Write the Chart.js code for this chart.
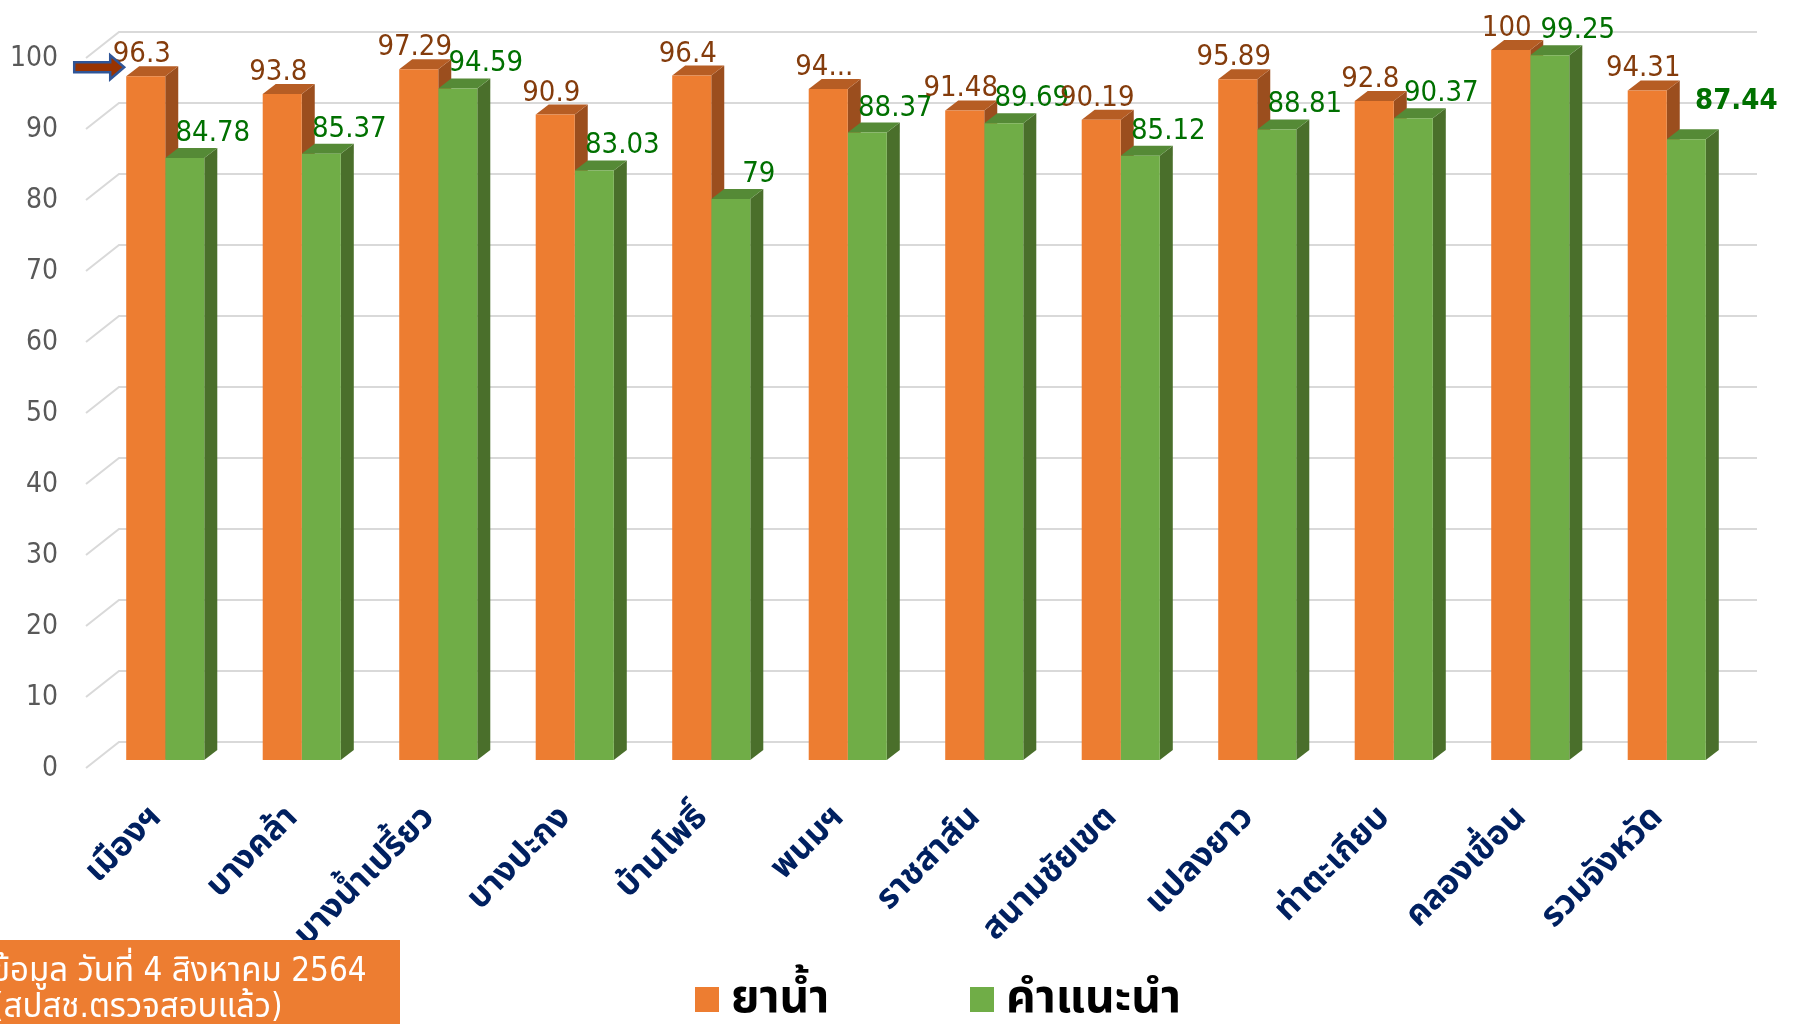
<!DOCTYPE html>
<html lang="th">
<head>
<meta charset="UTF-8">
<title>ยาน้ำ / คำแนะนำ</title>
<script src="https://cdn.jsdelivr.net/npm/chart.js"></script>
<style>
  body { margin: 0; background: #ffffff; overflow: hidden; }
  .wrap { position: relative; width: 1793px; height: 1024px; }
</style>
</head>
<body>
<div class="wrap"><canvas id="chart" width="1793" height="1024"></canvas></div>
<script>
const categories = ['เมืองฯ', 'บางคล้า', 'บางน้ำเปรี้ยว', 'บางปะกง', 'บ้านโพธิ์', 'พนมฯ',
                    'ราชสาส์น', 'สนามชัยเขต', 'แปลงยาว', 'ท่าตะเกียบ', 'คลองเขื่อน', 'รวมจังหวัด'];
const yaNamValues = [96.3, 93.8, 97.29, 90.9, 96.4, 94.5, 91.48, 90.19, 95.89, 92.8, 100, 94.31];
const yaNamLabels = ['96.3', '93.8', '97.29', '90.9', '96.4', '94...', '91.48', '90.19', '95.89', '92.8', '100', '94.31'];
const kamNaeNamValues = [84.78, 85.37, 94.59, 83.03, 79, 88.37, 89.69, 85.12, 88.81, 90.37, 99.25, 87.44];
const seriesNames = ['ยาน้ำ', 'คำแนะนำ'];
const yMin = 0, yMax = 100, yStep = 10;
const noteLines = ['ข้อมูล วันที่ 4 สิงหาคม 2564', '(สปสช.ตรวจสอบแล้ว)'];

const THAI = "Tahoma, 'DejaVu Sans Condensed', 'Noto Sans Thai', 'Noto Sans', sans-serif";
const NUM = "Tahoma, 'DejaVu Sans Condensed', 'Liberation Sans', sans-serif";

// face colours: front, top, side
const faces = [
    { front: '#ED7D31', top: '#B65D24', side: '#9B4E1E', label: '#843C0C' },
    { front: '#70AD47', top: '#558A36', side: '#4A6F2B', label: '#007000' }
];
const DX = 13, DY = 10;          // bar depth
const WALL_DX = 22, WALL_DY = 18; // back wall offset from bar front plane
const FLOOR_DX = 11, FLOOR_DY = 8; // front plane offset

const bars3d = {
    id: 'bars3d',
    beforeDatasetsDraw(chart) {
        const ctx = chart.ctx, area = chart.chartArea, y = chart.scales.y;
        ctx.save();
        // 3D gridlines: back wall + floor diagonals
        ctx.strokeStyle = '#d9d9d9';
        ctx.lineWidth = 2;
        y.ticks.forEach(t => {
            const yp = y.getPixelForValue(t.value);
            ctx.beginPath();
            ctx.moveTo(area.left - FLOOR_DX, yp + FLOOR_DY);
            ctx.lineTo(area.left + WALL_DX, yp - WALL_DY);
            ctx.lineTo(area.right + WALL_DX, yp - WALL_DY);
            ctx.stroke();
        });
        // top and side faces of each box
        const metas = [chart.getDatasetMeta(0), chart.getDatasetMeta(1)];
        for (let i = 0; i < categories.length; i++) {
            metas.forEach((meta, d) => {
                const el = meta.data[i];
                const x1 = el.x - el.width / 2, x2 = el.x + el.width / 2;
                const top = el.y, bot = el.base;
                ctx.fillStyle = faces[d].side;
                ctx.beginPath();
                ctx.moveTo(x2, top);
                ctx.lineTo(x2 + DX, top - DY);
                ctx.lineTo(x2 + DX, bot - DY);
                ctx.lineTo(x2, bot);
                ctx.closePath();
                ctx.fill();
                ctx.fillStyle = faces[d].top;
                ctx.beginPath();
                ctx.moveTo(x1, top);
                ctx.lineTo(x1 + DX, top - DY);
                ctx.lineTo(x2 + DX, top - DY);
                ctx.lineTo(x2, top);
                ctx.closePath();
                ctx.fill();
            });
        }
        ctx.restore();
    },
    afterDatasetsDraw(chart) {
        const ctx = chart.ctx;
        ctx.save();
        ctx.textAlign = 'center';
        ctx.textBaseline = 'alphabetic';
        const m0 = chart.getDatasetMeta(0), m1 = chart.getDatasetMeta(1);
        for (let i = 0; i < categories.length; i++) {
            const a = m0.data[i], b = m1.data[i];
            ctx.font = '29px ' + NUM;
            ctx.fillStyle = faces[0].label;
            ctx.fillText(yaNamLabels[i], a.x - 4, a.y - 14);
            const last = i === categories.length - 1;
            ctx.font = (last ? 'bold ' : '') + '29px ' + NUM;
            ctx.fillStyle = faces[1].label;
            ctx.fillText(String(kamNaeNamValues[i]), b.x + (last ? 50 : 28), b.y - (last ? 30 : 17));
        }
        // arrow pointing at the first bar
        const f = m0.data[0];
        const tip = f.x - f.width / 2 - 2, cy = f.y - 9;
        ctx.beginPath();
        ctx.moveTo(tip - 50, cy - 5);
        ctx.lineTo(tip - 14, cy - 5);
        ctx.lineTo(tip - 14, cy - 12);
        ctx.lineTo(tip, cy);
        ctx.lineTo(tip - 14, cy + 12);
        ctx.lineTo(tip - 14, cy + 5);
        ctx.lineTo(tip - 50, cy + 5);
        ctx.closePath();
        ctx.fillStyle = '#993300';
        ctx.fill();
        ctx.strokeStyle = '#2F5597';
        ctx.lineWidth = 2.5;
        ctx.stroke();
        ctx.restore();
    },
    afterDraw(chart) {
        const ctx = chart.ctx;
        ctx.save();
        // legend
        ctx.font = 'bold 46px ' + THAI;
        ctx.textBaseline = 'middle';
        ctx.textAlign = 'left';
        const legendX = [695, 970];
        seriesNames.forEach((name, d) => {
            ctx.fillStyle = faces[d].front;
            ctx.fillRect(legendX[d], 987, 24, 25);
            ctx.fillStyle = '#000000';
            ctx.fillText(name, legendX[d] + 36, 1000);
        });
        // note box
        ctx.fillStyle = '#ED7D31';
        ctx.fillRect(0, 940, 400, 84);
        ctx.fillStyle = '#ffffff';
        ctx.font = '33px ' + THAI;
        ctx.fillText(noteLines[0], -8, 972);
        ctx.fillText(noteLines[1], -8, 1008);
        ctx.restore();
    }
};

new Chart(document.getElementById('chart'), {
    type: 'bar',
    data: {
        labels: categories,
        datasets: [
            { label: seriesNames[0], data: yaNamValues, backgroundColor: faces[0].front },
            { label: seriesNames[1], data: kamNaeNamValues, backgroundColor: faces[1].front }
        ]
    },
    options: {
        responsive: false,
        animation: false,
        layout: { padding: { top: 50, right: 58, left: 0, bottom: 0 } },
        plugins: { legend: { display: false }, tooltip: { enabled: false } },
        datasets: { bar: { categoryPercentage: 0.572, barPercentage: 1.0 } },
        scales: {
            x: {
                grid: { display: false },
                border: { display: false },
                ticks: {
                    autoSkip: false, maxRotation: 45, minRotation: 45, padding: 30, labelOffset: -9,
                    color: '#002060', font: { family: THAI, size: 34, weight: 'bold' }
                },
                afterFit(scale) { scale.height = 264; }
            },
            y: {
                min: yMin, max: yMax,
                grid: { display: false },
                border: { display: false },
                ticks: {
                    stepSize: yStep, padding: 31, labelOffset: 9,
                    color: '#595959', font: { family: NUM, size: 28 }
                },
                afterFit(scale) { scale.width = 97; }
            }
        }
    },
    plugins: [bars3d]
});
</script>
</body>
</html>
